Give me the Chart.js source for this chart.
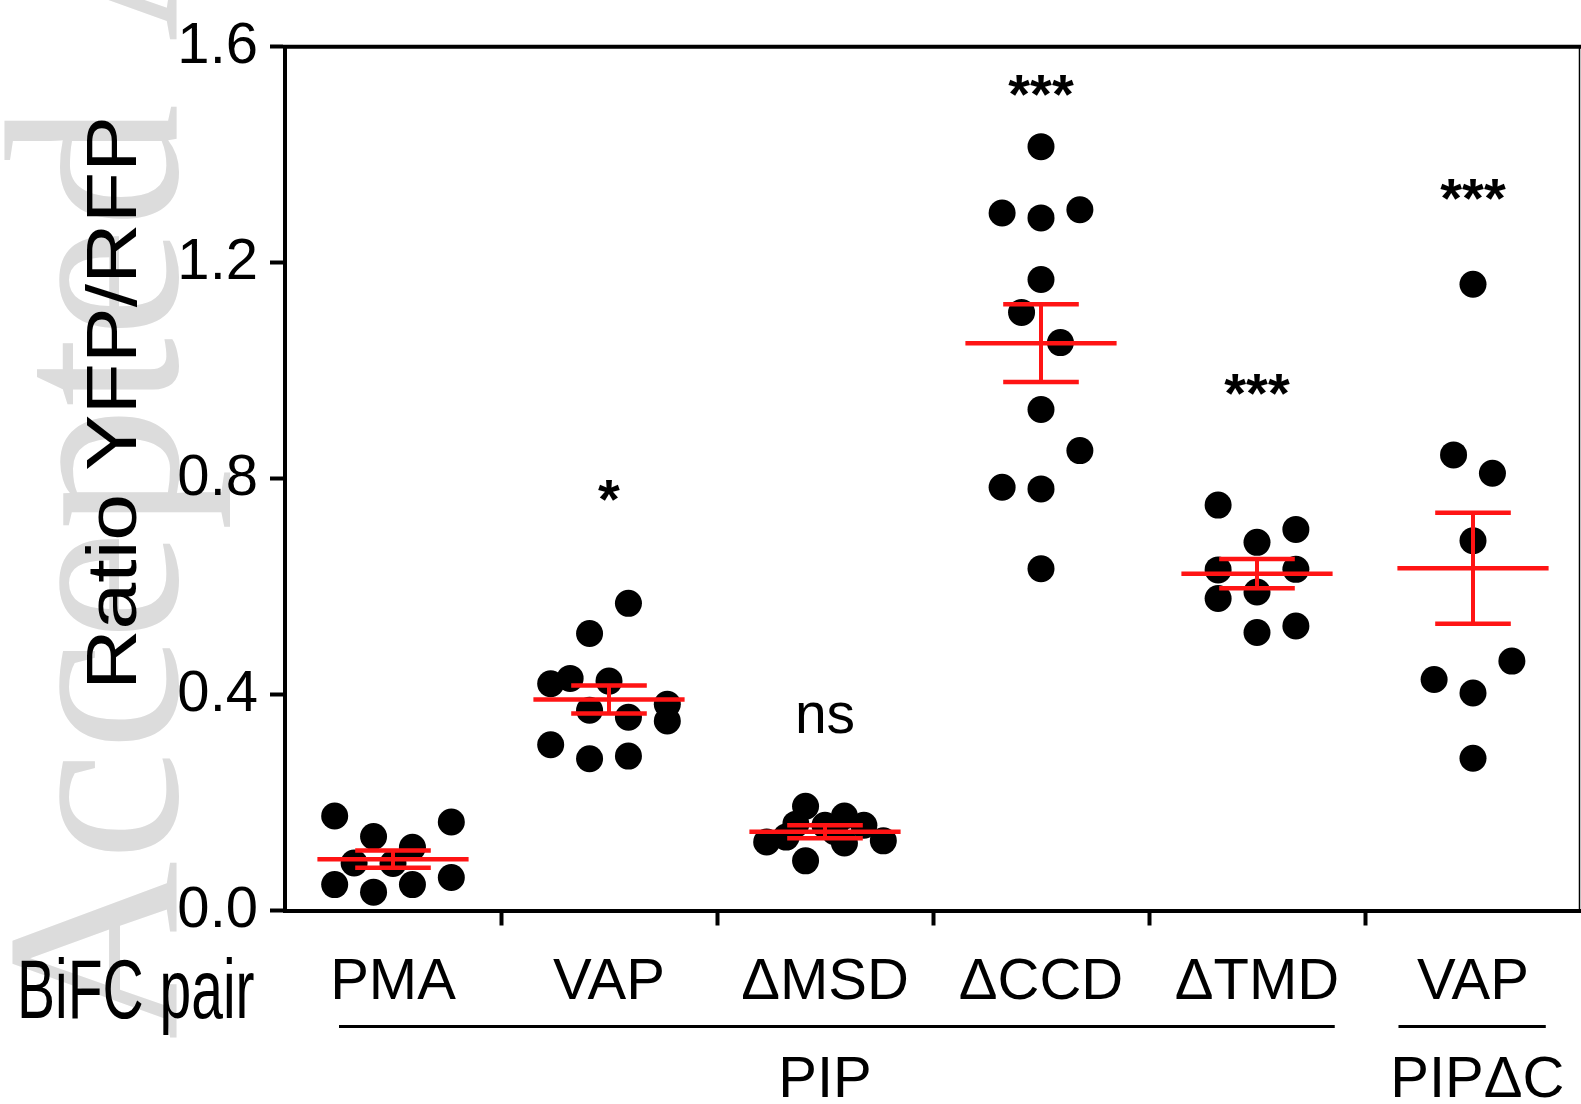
<!DOCTYPE html>
<html>
<head>
<meta charset="utf-8">
<title>BiFC ratio YFP/RFP</title>
<script src="https://cdn.jsdelivr.net/npm/chart.js@4.4.1/dist/chart.umd.min.js"></script>
<style>
  html, body { margin: 0; padding: 0; background: #fff; overflow: hidden; }
  canvas { display: block; }
</style>
</head>
<body>
<canvas id="chart" width="1581" height="1104"></canvas>
<script>
const categories = ['PMA', 'VAP', 'ΔMSD', 'ΔCCD', 'ΔTMD', 'VAP'];
const yTicks = [0.0, 0.4, 0.8, 1.2, 1.6];

// ratio per cell, and the swarm column each dot sits in (in half dot widths)
const pmaValues = [0.175, 0.137, 0.117, 0.164, 0.088, 0.087, 0.048, 0.034, 0.048, 0.061];
const pmaSlots  = [-3, -1, 1, 3, -2, 0, -3, -1, 1, 3];
const vapValues = [0.569, 0.513, 0.420, 0.430, 0.425, 0.382, 0.371, 0.358, 0.351, 0.307, 0.281, 0.286];
const vapSlots  = [1, -1, -3, -2, 0, 3, -1, 1, 3, -3, -1, 1];
const msdValues = [0.127, 0.136, 0.160, 0.193, 0.092, 0.158, 0.146, 0.175, 0.125, 0.158, 0.129];
const msdSlots  = [-3, -2, -1.5, -1, -1, 0, 0.5, 1, 1, 2, 3];
const ccdValues = [1.415, 1.292, 1.283, 1.298, 1.169, 1.108, 1.052, 0.928, 0.852, 0.784, 0.781, 0.633];
const ccdSlots  = [0, -2, 0, 2, 0, -1, 1, 0, 2, -2, 0, 0];
const tmdValues = [0.751, 0.682, 0.706, 0.631, 0.632, 0.578, 0.590, 0.515, 0.527];
const tmdSlots  = [-2, 0, 2, -2, 2, -2, 0, 0, 2];
const vapDcValues = [1.160, 0.844, 0.810, 0.685, 0.462, 0.428, 0.403, 0.282];
const vapDcSlots  = [0, -1, 1, 0, 2, -2, 0, 0];

// mean and SEM
const means = [0.095, 0.391, 0.146, 1.051, 0.624, 0.634];
const sems  = [0.016, 0.026, 0.012, 0.072, 0.027, 0.103];

const sigLabels = ['', '*', 'ns', '***', '***', '***'];
const sigY      = [0, 0.727, 0.328, 1.477, 0.924, 1.284];

const groupLabels  = ['PIP', 'PIPΔC'];
const groupCenters = [2, 5.02];
const groupSpans   = [[-0.25, 4.36], [4.655, 5.337]];

const FONT = "'Liberation Sans', Arial, sans-serif";
const RED = '#ff1414';
const SLOT = 0.09;
const CLEAR = 'rgba(0,0,0,0)';

const groups = [
  [pmaValues, pmaSlots], [vapValues, vapSlots], [msdValues, msdSlots],
  [ccdValues, ccdSlots], [tmdValues, tmdSlots], [vapDcValues, vapDcSlots]
];
const points = [];
groups.forEach(([vals, slots], i) => {
  vals.forEach((v, k) => points.push({ x: i + slots[k] * SLOT, y: v }));
});

const watermark = {
  id: 'watermark',
  beforeDraw(chart) {
    const ctx = chart.ctx;
    ctx.save();
    ctx.translate(177, 1040);
    ctx.rotate(-Math.PI / 2);
    ctx.font = "248px 'Liberation Serif', 'Times New Roman', serif";
    ctx.fillStyle = '#dcdcdc';
    ctx.textAlign = 'left';
    ctx.textBaseline = 'alphabetic';
    ctx.fillText('Accepted Article', 0, 0);
    ctx.restore();
  }
};

const errorBars = {
  id: 'errorBars',
  afterDatasetsDraw(chart) {
    const ctx = chart.ctx;
    const xs = chart.scales.xj, ys = chart.scales.y;
    ctx.save();
    ctx.strokeStyle = RED;
    ctx.lineCap = 'butt';
    means.forEach((m, i) => {
      const ym = ys.getPixelForValue(m);
      const yt = ys.getPixelForValue(m + sems[i]);
      const yb = ys.getPixelForValue(m - sems[i]);
      const xc = xs.getPixelForValue(i);
      ctx.lineWidth = 4.5;
      ctx.beginPath();
      ctx.moveTo(xs.getPixelForValue(i - 0.35), ym);
      ctx.lineTo(xs.getPixelForValue(i + 0.35), ym);
      ctx.moveTo(xs.getPixelForValue(i - 0.175), yt);
      ctx.lineTo(xs.getPixelForValue(i + 0.175), yt);
      ctx.moveTo(xs.getPixelForValue(i - 0.175), yb);
      ctx.lineTo(xs.getPixelForValue(i + 0.175), yb);
      ctx.stroke();
      ctx.lineWidth = 4;
      ctx.beginPath();
      ctx.moveTo(xc, yt);
      ctx.lineTo(xc, yb);
      ctx.stroke();
    });
    ctx.restore();
  }
};

const extras = {
  id: 'extras',
  afterDraw(chart) {
    const ctx = chart.ctx;
    const xs = chart.scales.xj, ys = chart.scales.y;
    const area = chart.chartArea;
    ctx.save();
    ctx.fillStyle = '#000';
    ctx.strokeStyle = '#000';

    // box top and right
    ctx.lineWidth = 4;
    ctx.beginPath();
    ctx.moveTo(area.left - 2, area.top);
    ctx.lineTo(1581, area.top);
    ctx.stroke();
    ctx.lineWidth = 1.5;
    ctx.beginPath();
    ctx.moveTo(1579.5, area.top);
    ctx.lineTo(1579.5, area.bottom);
    ctx.stroke();

    // significance marks
    sigLabels.forEach((s, i) => {
      if (!s) return;
      ctx.font = (s === 'ns' ? '57px ' : 'bold 56px ') + FONT;
      ctx.textAlign = 'center';
      ctx.textBaseline = 'alphabetic';
      ctx.fillText(s, xs.getPixelForValue(i), ys.getPixelForValue(sigY[i]));
    });

    // y title
    ctx.save();
    ctx.translate(136, 403);
    ctx.rotate(-Math.PI / 2);
    ctx.scale(1.2, 1);
    ctx.font = '70px ' + FONT;
    ctx.textAlign = 'center';
    ctx.textBaseline = 'alphabetic';
    ctx.fillText('Ratio YFP/RFP', 0, 0);
    ctx.restore();

    // BiFC pair
    ctx.save();
    ctx.translate(17, 1018);
    ctx.scale(1, 1.45);
    ctx.font = '57px ' + FONT;
    ctx.textAlign = 'left';
    ctx.fillText('BiFC pair', 0, 0);
    ctx.restore();

    // group underlines and names
    ctx.lineWidth = 3;
    groupSpans.forEach(([a, b]) => {
      ctx.beginPath();
      ctx.moveTo(xs.getPixelForValue(a), 1026.5);
      ctx.lineTo(xs.getPixelForValue(b), 1026.5);
      ctx.stroke();
    });
    ctx.font = '58px ' + FONT;
    ctx.textAlign = 'center';
    groupLabels.forEach((g, i) => {
      ctx.fillText(g, xs.getPixelForValue(groupCenters[i]), 1097);
    });
    ctx.restore();
  }
};

new Chart(document.getElementById('chart'), {
  type: 'scatter',
  data: {
    labels: categories,
    datasets: [{
      data: points,
      xAxisID: 'xj',
      yAxisID: 'y',
      pointRadius: 13.5,
      pointHoverRadius: 13.5,
      pointBackgroundColor: '#000',
      pointBorderWidth: 0,
      showLine: false
    }]
  },
  options: {
    responsive: false,
    animation: false,
    devicePixelRatio: 1,
    layout: { autoPadding: false, padding: { top: 45.5, right: 0, left: 0, bottom: 0 } },
    plugins: { legend: { display: false }, tooltip: { enabled: false } },
    scales: {
      x: {
        type: 'category',
        labels: categories,
        position: 'bottom',
        offset: true,
        grid: {
          offset: true,
          drawOnChartArea: false,
          tickLength: 15,
          tickWidth: 4,
          color: '#000',
          tickColor: c => (c.index === 0 || c.index === undefined) ? CLEAR : '#000'
        },
        border: { width: 4, color: '#000' },
        ticks: { font: { size: 58, family: FONT }, color: '#000', padding: 23, autoSkip: false, maxRotation: 0 },
        afterFit(scale) {
          scale.height = 1104 - 910.5;
          scale.paddingLeft = 0;
          scale.paddingRight = 0;
        }
      },
      xj: { type: 'linear', min: -0.5, max: 5.5, display: false },
      y: {
        min: 0,
        max: 1.6,
        grid: { drawOnChartArea: false, tickLength: 15, tickWidth: 4, color: '#000' },
        border: { width: 4, color: '#000' },
        ticks: {
          font: { size: 58, family: FONT },
          color: '#000',
          padding: 12,
          callback: v => v.toFixed(1)
        },
        afterBuildTicks(scale) { scale.ticks = yTicks.map(v => ({ value: v })); },
        afterFit(scale) { scale.width = 285; }
      }
    }
  },
  plugins: [watermark, errorBars, extras]
});
</script>
</body>
</html>
